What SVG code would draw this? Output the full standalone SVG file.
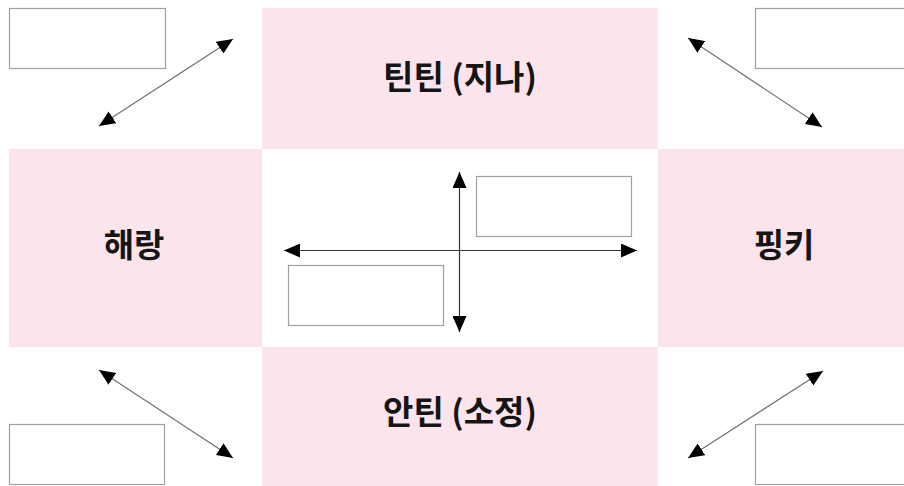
<svg xmlns="http://www.w3.org/2000/svg" width="904" height="486" viewBox="0 0 904 486">
<style>
.pink{fill:#fce4ec}
.box{fill:#ffffff;stroke:#a0a0a0;stroke-width:1.2}
.lbl{font-family:"Noto Sans CJK KR","Noto Sans",sans-serif;font-weight:bold;font-size:33px;fill:#151515;text-anchor:middle}
.diag{stroke:#707070;stroke-width:1.2;fill:none;marker-start:url(#ah);marker-end:url(#ah)}
.axis{stroke:#333333;stroke-width:1.2;fill:none;marker-start:url(#ah);marker-end:url(#ah)}
</style>
<defs>
<marker id="ah" viewBox="0 0 16 14" refX="16" refY="7" markerWidth="16" markerHeight="14" markerUnits="userSpaceOnUse" orient="auto-start-reverse">
<path d="M0,0 L16,7 L0,14 Z" fill="#000"/>
</marker>
</defs>
<rect width="904" height="486" fill="#ffffff"/>
<g id="node-top">
<rect class="pink" x="262" y="8" width="396" height="141"/>
<text class="lbl" x="460" y="89">틴틴 (지나)</text>
</g>
<g id="node-left">
<rect class="pink" x="9" y="149" width="253" height="198"/>
<text class="lbl" x="134" y="257">해랑</text>
</g>
<g id="node-right">
<rect class="pink" x="658" y="149" width="246" height="198"/>
<text class="lbl" x="784" y="257">핑키</text>
</g>
<g id="node-bottom">
<rect class="pink" x="262" y="347" width="396" height="139"/>
<text class="lbl" x="460" y="424">안틴 (소정)</text>
</g>
<g id="box-tl"><rect class="box" x="9.5" y="8.5" width="156" height="60"/></g>
<g id="box-tr"><rect class="box" x="755.5" y="8.5" width="160" height="60"/></g>
<g id="box-bl"><rect class="box" x="9.5" y="424.5" width="155" height="60"/></g>
<g id="box-br"><rect class="box" x="755.5" y="424.5" width="160" height="60"/></g>
<g id="box-c1"><rect class="box" x="476.5" y="176.5" width="155" height="60"/></g>
<g id="box-c2"><rect class="box" x="288.5" y="265.5" width="155" height="60"/></g>
<g id="connectors">
<line class="diag" x1="99" y1="126" x2="233" y2="39"/>
<line class="diag" x1="688" y1="38" x2="822" y2="127"/>
<line class="diag" x1="99" y1="370" x2="233" y2="458"/>
<line class="diag" x1="823" y1="371" x2="688" y2="458"/>
<line class="axis" x1="459.5" y1="172" x2="459.5" y2="332"/>
<line class="axis" x1="284" y1="250.5" x2="637" y2="250.5"/>
</g>
</svg>
